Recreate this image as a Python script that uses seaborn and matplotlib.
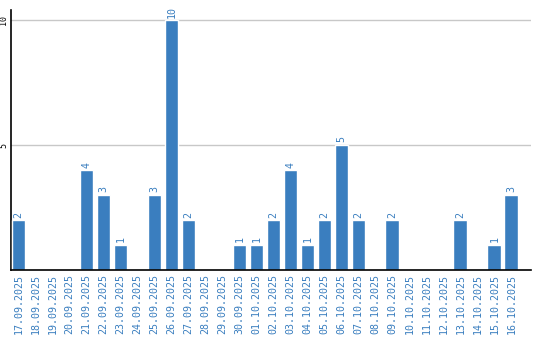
import matplotlib
matplotlib.use("Agg")
import matplotlib.pyplot as plt
import seaborn as sns
import pandas as pd

dates = ["17.09.2025", "18.09.2025", "19.09.2025", "20.09.2025", "21.09.2025",
         "22.09.2025", "23.09.2025", "24.09.2025", "25.09.2025", "26.09.2025",
         "27.09.2025", "28.09.2025", "29.09.2025", "30.09.2025", "01.10.2025",
         "02.10.2025", "03.10.2025", "04.10.2025", "05.10.2025", "06.10.2025",
         "07.10.2025", "08.10.2025", "09.10.2025", "10.10.2025", "11.10.2025",
         "12.10.2025", "13.10.2025", "14.10.2025", "15.10.2025", "16.10.2025"]
counts = [2, 0, 0, 0, 4, 3, 1, 0, 3, 10, 2, 0, 0, 1, 1, 2, 4, 1, 2, 5,
          2, 0, 2, 0, 0, 0, 2, 0, 1, 3]
y_ticks = [5, 10]

BLUE = "#3a7ebf"
df = pd.DataFrame({"date": dates, "count": counts})

sns.set_style("white")
plt.rcParams["font.family"] = ["DejaVu Sans Mono", "DejaVu Sans"]

fig = plt.figure(figsize=(5.4, 3.4), dpi=100)
ax = fig.add_axes([10.5 / 540, 1 - 270 / 340, 520 / 540, 260 / 340])

sns.barplot(data=df, x="date", y="count", color=BLUE, saturation=1,
            width=0.82, ax=ax, zorder=3)

ax.set_ylim(0, 10.4)
ax.set_xlim(-0.47, 30.12)
ax.set_yticks(y_ticks)
ax.set_yticklabels([str(t) for t in y_ticks], rotation=90, va="center",
                   fontsize=6, color="black")
ax.tick_params(axis="y", length=0, pad=1.5)
ax.tick_params(axis="x", length=0, pad=3, labelsize=7.2, labelcolor=BLUE,
               rotation=90)
ax.yaxis.grid(True, color="#c8c8c8", linewidth=1, zorder=0)
ax.xaxis.grid(False)
ax.set_xlabel("")
ax.set_ylabel("")

for s in ["top", "right"]:
    ax.spines[s].set_visible(False)
for s in ["left", "bottom"]:
    ax.spines[s].set_visible(True)
    ax.spines[s].set_color("black")
    ax.spines[s].set_linewidth(1.2)
ax.spines["bottom"].set_zorder(5)

for i, v in enumerate(counts):
    if v > 0:
        ax.text(i, v + 0.1, str(v), rotation=90, ha="center", va="bottom",
                color=BLUE, fontsize=7.2)

fig.savefig("out.png", dpi=100)
